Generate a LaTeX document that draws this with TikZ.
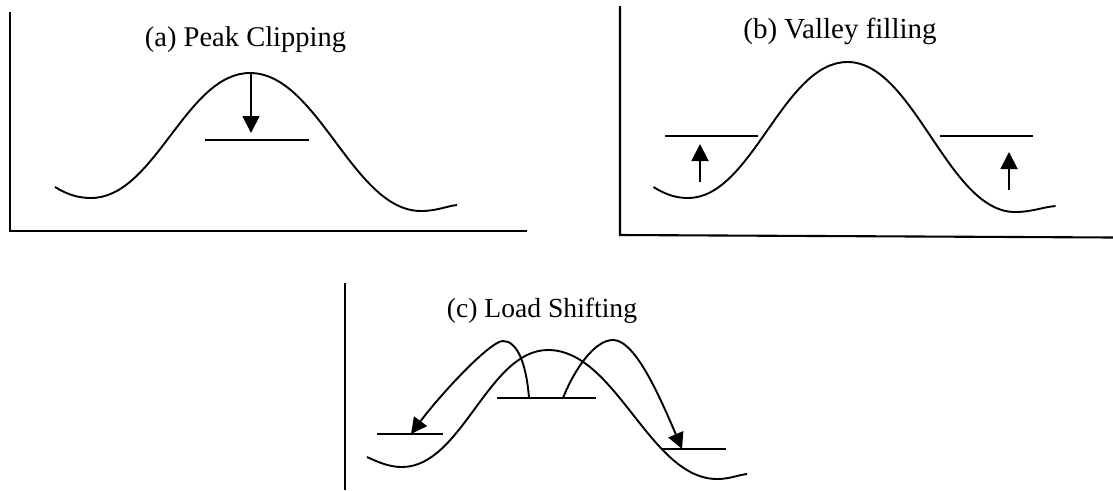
\documentclass[tikz,border=0pt]{standalone}
\usepackage{fontspec}
\setmainfont{Liberation Serif}
\usetikzlibrary{arrows.meta}
\tikzset{
  curve/.style={line width=1.9pt, line join=round},
  axis/.style={line width=2.1pt},
  level/.style={line width=1.9pt},
  shiftarrow/.style={line width=1.9pt, -{Triangle[length=16pt,width=16pt]}},
  bigarrow/.style={line width=1.9pt, -{Triangle[length=17pt,width=17pt]}},
  midarrow/.style={line width=1.9pt, -{Triangle[length=17pt,width=17pt]}},
  title/.style={anchor=base, inner sep=0pt}
}
\begin{document}
\begin{tikzpicture}[x=1pt,y=-1pt]
\path[use as bounding box, fill=white] (0,0) rectangle (1113,490);

% ---------- (a) Peak Clipping ----------
\draw[axis] (10,12) -- (10,231) -- (527,231);
\node[title, font=\fontsize{28.5}{31}\selectfont] (ta) at (245.5,46) {(a) Peak Clipping};
\draw[curve] (55,187) .. controls (68,195) and (79,198) .. (91,198)
  .. controls (155,198) and (186,73) .. (250,73)
  .. controls (318,73) and (353,211) .. (421,211)
  .. controls (437,211) and (447,206) .. (457,205);
\coordinate (a1) at (251,73);
\coordinate (a2) at (251,133);
\draw[bigarrow] (a1) -- (a2);
\coordinate (la1) at (205,140);
\coordinate (la2) at (309,140);
\draw[level] (la1) -- (la2);

% ---------- (b) Valley filling ----------
\draw[axis] (620,6) -- (620,235) -- (1113,237.5);
\node[title, font=\fontsize{29}{32}\selectfont] (tb) at (840,38) {(b) Valley filling};
\draw[curve] (653.5,187) .. controls (666,195) and (677,198) .. (688,198)
  .. controls (752,198) and (783,62) .. (847.5,62)
  .. controls (914,62) and (948,212) .. (1015,212)
  .. controls (1032,212) and (1043,207) .. (1055.5,206);
\coordinate (lb1) at (665,136);
\coordinate (lb2) at (758,136);
\coordinate (lb3) at (940,136);
\coordinate (lb4) at (1033,136);
\draw[level] (lb1) -- (lb2);
\draw[level] (lb3) -- (lb4);
\coordinate (b1) at (700,182);
\coordinate (b2) at (700,144);
\coordinate (b3) at (1009,190);
\coordinate (b4) at (1009,152);
\draw[midarrow] (b1) -- (b2);
\draw[midarrow] (b3) -- (b4);

% ---------- (c) Load Shifting ----------
\draw[axis] (345,283) -- (345,490);
\node[title, font=\fontsize{27.6}{30}\selectfont] (tc) at (542,317) {(c) Load Shifting};
\draw[curve] (367,457) .. controls (380,463) and (390,467) .. (402,467)
  .. controls (462,467) and (488,350) .. (548,350)
  .. controls (616,350) and (650,479) .. (717,479)
  .. controls (730,479) and (738,475) .. (747,474);
\coordinate (lc1) at (497,398);
\coordinate (lc2) at (596,398);
\coordinate (lc3) at (377,434);
\coordinate (lc4) at (443,434);
\coordinate (lc5) at (662,449);
\coordinate (lc6) at (726,449);
\draw[level] (lc1) -- (lc2);
\draw[level] (lc3) -- (lc4);
\draw[level] (lc5) -- (lc6);
\coordinate (c1) at (529,398);
\coordinate (c2) at (411,434);
\coordinate (c3) at (563,398);
\coordinate (c4) at (682,449);
\draw[shiftarrow] (c1) .. controls (526,360) and (516,341) .. (503,341)
  .. controls (490,341) and (440,395) .. (c2);
\draw[shiftarrow] (c3) .. controls (575,368) and (595,340) .. (613,340)
  .. controls (633,340) and (655,385) .. (c4);
\end{tikzpicture}
\end{document}
